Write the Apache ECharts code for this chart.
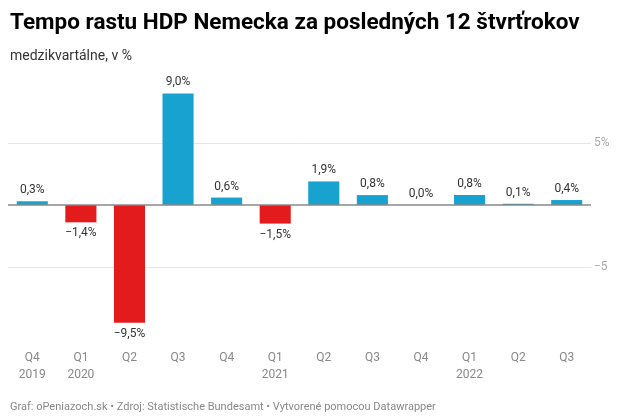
<!DOCTYPE html>
<html>
<head>
<meta charset="utf-8">
<script src="https://cdn.jsdelivr.net/npm/echarts@6/dist/echarts.min.js"></script>
<style>
html,body{margin:0;padding:0;background:#fff;}
#c{width:619px;height:420px;}
</style>
</head>
<body>
<div id="c"></div>
<script>
var categories = ['Q4\n2019','Q1\n2020','Q2','Q3','Q4','Q1\n2021','Q2','Q3','Q4','Q1\n2022','Q2','Q3'];
var values = [0.3, -1.4, -9.5, 9.0, 0.6, -1.5, 1.9, 0.8, 0.0, 0.8, 0.1, 0.4];
var yTicks = {'5':'5%','-5':'\u22125'};

var FONT = 'Roboto, "Noto Sans", sans-serif';
function fmt(v){
  var s = Math.abs(v).toFixed(1).replace('.', ',') + '%';
  return (v < 0 ? '\u2212' : '') + s;
}
var data = values.map(function(v){
  return {
    value: v,
    itemStyle: {color: v < 0 ? '#e31b1c' : '#18a2cf'},
    label: {position: v < 0 ? 'bottom' : 'top'}
  };
});

var chart = echarts.init(document.getElementById('c'), null, {renderer:'canvas'});
chart.setOption({
  animation: false,
  backgroundColor: '#fff',
  title: [
    {text: 'Tempo rastu HDP Nemecka za posledných 12 štvrťrokov', left: 5, top: 7,
     textStyle: {fontFamily: FONT, fontSize: 22.5, fontWeight: 'bold', color: '#000'}},
    {text: 'medzikvartálne, v %', left: 5, top: 44,
     textStyle: {fontFamily: FONT, fontSize: 14, fontWeight: 'normal', color: '#333'}},
    {text: 'Graf: oPeniazoch.sk • Zdroj: Statistische Bundesamt • Vytvorené pomocou Datawrapper', left: 5, top: 397,
     textStyle: {fontFamily: FONT, fontSize: 11, fontWeight: 'normal', color: '#888'}}
  ],
  grid: {left: 8, right: 28, top: 81, bottom: 91},
  xAxis: {
    type: 'category',
    data: categories,
    axisLine: {show: false, onZero: false},
    axisTick: {show: false},
    axisLabel: {fontFamily: FONT, fontSize: 12, color: '#888', margin: 20, lineHeight: 17}
  },
  yAxis: {
    type: 'value',
    position: 'right',
    min: -10, max: 10, interval: 5,
    axisLine: {show: false},
    axisTick: {show: false},
    axisLabel: {
      fontFamily: FONT, fontSize: 12, color: '#aaa', margin: 3,
      formatter: function(v){ return yTicks[String(v)] || ''; }
    },
    splitLine: {
      show: true, showMinLine: false, showMaxLine: false,
      lineStyle: {color: ['#e6e6e6', 'rgba(0,0,0,0)', '#e6e6e6'], width: 1}
    }
  },
  series: [{
    type: 'bar',
    data: data,
    barCategoryGap: '36%',
    label: {
      show: true, distance: 5,
      fontFamily: FONT, fontSize: 12, color: '#333',
      formatter: function(p){ return fmt(p.value); }
    },
    markLine: {
      silent: true,
      symbol: 'none',
      label: {show: false},
      lineStyle: {color: '#888', type: 'solid', width: 1.5},
      data: [{yAxis: 0}]
    }
  }]
});
</script>
</body>
</html>
